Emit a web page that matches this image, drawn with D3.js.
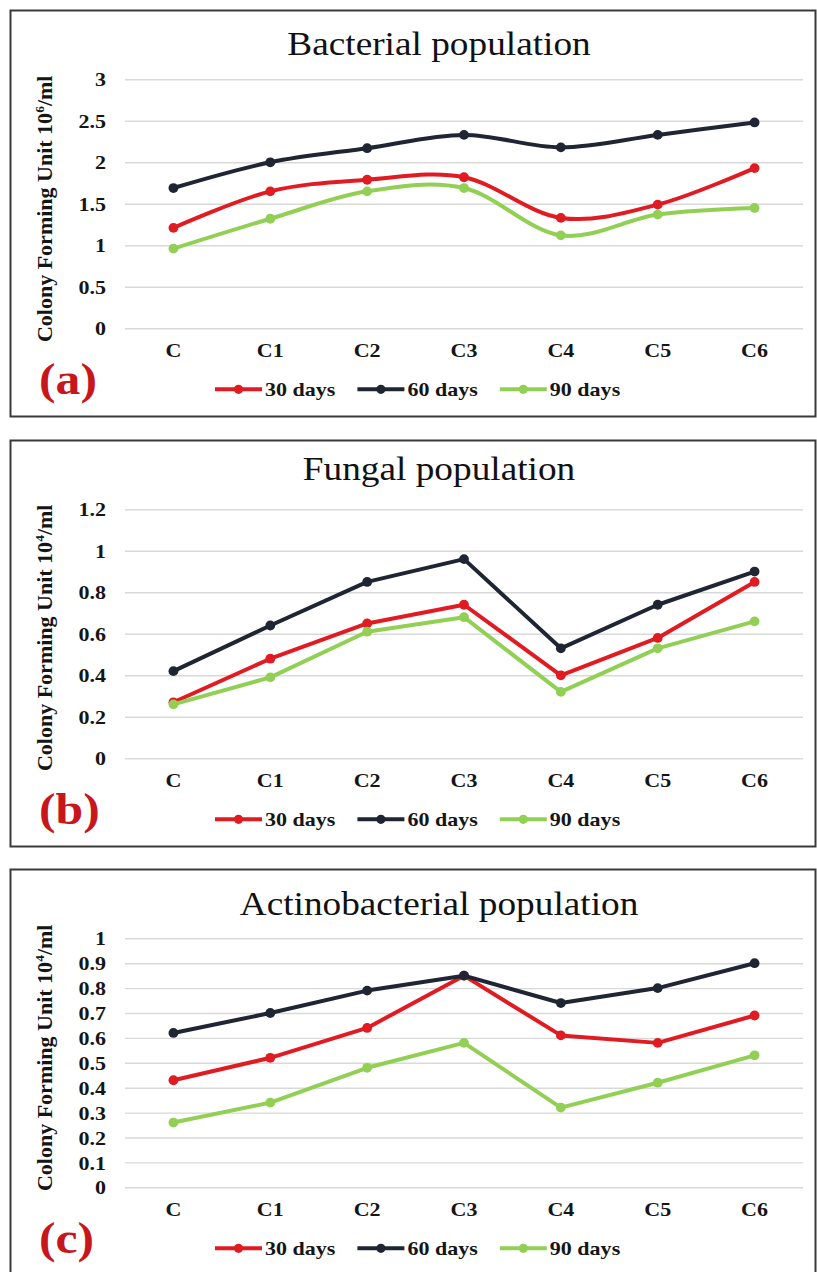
<!DOCTYPE html>
<html>
<head>
<meta charset="utf-8">
<script src="https://cdn.jsdelivr.net/npm/d3@7"></script>
<style>
  html, body { margin: 0; padding: 0; background: #ffffff; }
  svg { display: block; }
</style>
</head>
<body>
<svg id="chart" width="817" height="1272"></svg>
<script>
// Categories and series shared by the three panels
const categories = ["C", "C1", "C2", "C3", "C4", "C5", "C6"];
const seriesNames = ["30 days", "60 days", "90 days"];

// (a) Bacterial population, CFU 10^6/ml
const bacterial30 = [1.21, 1.65, 1.79, 1.82, 1.33, 1.49, 1.93];
const bacterial60 = [1.69, 2.00, 2.17, 2.33, 2.18, 2.33, 2.48];
const bacterial90 = [0.96, 1.32, 1.65, 1.69, 1.12, 1.37, 1.45];
const bacterialTicks = [0, 0.5, 1, 1.5, 2, 2.5, 3];

// (b) Fungal population, CFU 10^4/ml
const fungal30 = [0.27, 0.48, 0.65, 0.74, 0.40, 0.58, 0.85];
const fungal60 = [0.42, 0.64, 0.85, 0.96, 0.53, 0.74, 0.90];
const fungal90 = [0.26, 0.39, 0.61, 0.68, 0.32, 0.53, 0.66];
const fungalTicks = [0, 0.2, 0.4, 0.6, 0.8, 1, 1.2];

// (c) Actinobacterial population, CFU 10^4/ml
const actino30 = [0.43, 0.52, 0.64, 0.85, 0.61, 0.58, 0.69];
const actino60 = [0.62, 0.70, 0.79, 0.85, 0.74, 0.80, 0.90];
const actino90 = [0.26, 0.34, 0.48, 0.58, 0.32, 0.42, 0.53];
const actinoTicks = [0, 0.1, 0.2, 0.3, 0.4, 0.5, 0.6, 0.7, 0.8, 0.9, 1];

const titles = ["Bacterial population", "Fungal population", "Actinobacterial population"];
const unitExponents = ["6", "4", "4"];
const panelLetters = ["(a)", "(b)", "(c)"];

// Styling
const seriesColors = ["#e01b22", "#1f2532", "#92cf55"];
const letterColor = "#c8161d";
const serif = "'Liberation Serif', 'Times New Roman', Times, serif";
const SX = 1.13; // horizontal widening of the lettering

const panels = [
  { title: titles[0], exp: unitExponents[0], letter: panelLetters[0], ticks: bacterialTicks,
    series: [bacterial30, bacterial60, bacterial90], smooth: true,
    top: 10, titleDy: 45, yLabelShift: 5 },
  { title: titles[1], exp: unitExponents[1], letter: panelLetters[1], ticks: fungalTicks,
    series: [fungal30, fungal60, fungal90], smooth: false,
    top: 440, titleDy: 40, yLabelShift: 4 },
  { title: titles[2], exp: unitExponents[2], letter: panelLetters[2], ticks: actinoTicks,
    series: [actino30, actino60, actino90], smooth: false,
    top: 869, titleDy: 46, yLabelShift: -5 }
];

const svg = d3.select("#chart");
svg.append("rect").attr("width", 817).attr("height", 1272).attr("fill", "#ffffff");

// Widen a text element horizontally around its own anchor point
function widen(sel, sx) {
  sel.each(function () {
    const t = d3.select(this);
    const x = +t.attr("x") || 0;
    const y = +t.attr("y") || 0;
    t.attr("x", 0).attr("y", 0)
     .attr("transform", `translate(${x},${y}) scale(${sx},1)`);
  });
}

const boxLeft = 10.5, boxRight = 815.5, boxHeight = 406;
const plotLeft = 125, plotRight = 803;
const gridTopOffset = 69.3, plotHeight = 249;

panels.forEach(p => {
  const g = svg.append("g");
  const plotTop = p.top + gridTopOffset;
  const plotBottom = plotTop + plotHeight;

  // Frame
  g.append("rect")
    .attr("x", boxLeft).attr("y", p.top + 0.5)
    .attr("width", boxRight - boxLeft).attr("height", boxHeight)
    .attr("fill", "none").attr("stroke", "#3a3a3a").attr("stroke-width", 2);

  const x = d3.scaleBand().domain(categories).range([plotLeft, plotRight]);
  const y = d3.scaleLinear()
    .domain([p.ticks[0], p.ticks[p.ticks.length - 1]])
    .range([plotBottom, plotTop]);

  // Y axis with gridlines
  const yAxis = g.append("g")
    .attr("transform", `translate(${plotLeft},0)`)
    .call(d3.axisLeft(y).tickValues(p.ticks)
      .tickSize(-(plotRight - plotLeft)).tickPadding(19)
      .tickFormat(d => String(d)));
  yAxis.select(".domain").remove();
  yAxis.selectAll(".tick line").attr("stroke", "#d9d9d9").attr("stroke-width", 1.4);
  yAxis.selectAll(".tick text")
    .attr("font-family", serif).attr("font-weight", "bold")
    .attr("font-size", 19.5).attr("fill", "#151515")
    .attr("dy", "0.34em")
    .call(widen, SX);

  // X axis labels
  const xAxis = g.append("g")
    .attr("transform", `translate(0,${plotBottom})`)
    .call(d3.axisBottom(x).tickSize(0).tickPadding(15));
  xAxis.select(".domain").remove();
  xAxis.selectAll(".tick text")
    .attr("font-family", serif).attr("font-weight", "bold")
    .attr("font-size", 19.5).attr("fill", "#151515")
    .call(widen, SX);

  // Title
  g.append("text")
    .attr("x", 439).attr("y", p.top + p.titleDy)
    .attr("text-anchor", "middle")
    .attr("font-family", serif).attr("font-size", 33).attr("fill", "#111")
    .text(p.title)
    .call(widen, SX);

  // Y axis title
  const yl = g.append("text")
    .attr("transform", `translate(52,${(plotTop + plotBottom) / 2 + p.yLabelShift}) rotate(-90)`)
    .attr("text-anchor", "middle")
    .attr("font-family", serif).attr("font-weight", "bold")
    .attr("font-size", 22).attr("fill", "#151515");
  yl.append("tspan").text("Colony Forming Unit 10");
  yl.append("tspan").attr("font-size", 13.5).attr("dy", -8).text(p.exp);
  yl.append("tspan").attr("dy", 8).text("/ml");

  // Lines and markers
  const line = d3.line()
    .x((d, i) => x(categories[i]) + x.bandwidth() / 2)
    .y(d => y(d))
    .curve(p.smooth ? d3.curveCardinal.tension(0) : d3.curveLinear);

  p.series.forEach((vals, si) => {
    g.append("path")
      .datum(vals)
      .attr("d", line)
      .attr("fill", "none")
      .attr("stroke", seriesColors[si])
      .attr("stroke-width", 4)
      .attr("stroke-linejoin", "round");
    g.selectAll(null)
      .data(vals)
      .join("circle")
      .attr("cx", (d, i) => x(categories[i]) + x.bandwidth() / 2)
      .attr("cy", d => y(d))
      .attr("r", 4.9)
      .attr("fill", seriesColors[si]);
  });

  // Legend
  const legendY = plotBottom + 61;
  let lx = 215;
  seriesNames.forEach((name, si) => {
    g.append("line")
      .attr("x1", lx).attr("x2", lx + 47)
      .attr("y1", legendY).attr("y2", legendY)
      .attr("stroke", seriesColors[si]).attr("stroke-width", 4);
    g.append("circle")
      .attr("cx", lx + 23.5).attr("cy", legendY).attr("r", 4.6)
      .attr("fill", seriesColors[si]);
    const t = g.append("text")
      .attr("x", lx + 50).attr("y", legendY + 6.5)
      .attr("font-family", serif).attr("font-weight", "bold")
      .attr("font-size", 19.5).attr("fill", "#151515")
      .text(name);
    const w = t.node().getComputedTextLength() * SX;
    t.call(widen, SX);
    lx += 50 + w + 22;
  });

  // Panel letter
  g.append("text")
    .attr("x", 39).attr("y", p.top + 384)
    .attr("font-family", serif).attr("font-weight", "bold")
    .attr("font-size", 44).attr("fill", letterColor)
    .text(p.letter)
    .call(widen, SX);
});
</script>
</body>
</html>
